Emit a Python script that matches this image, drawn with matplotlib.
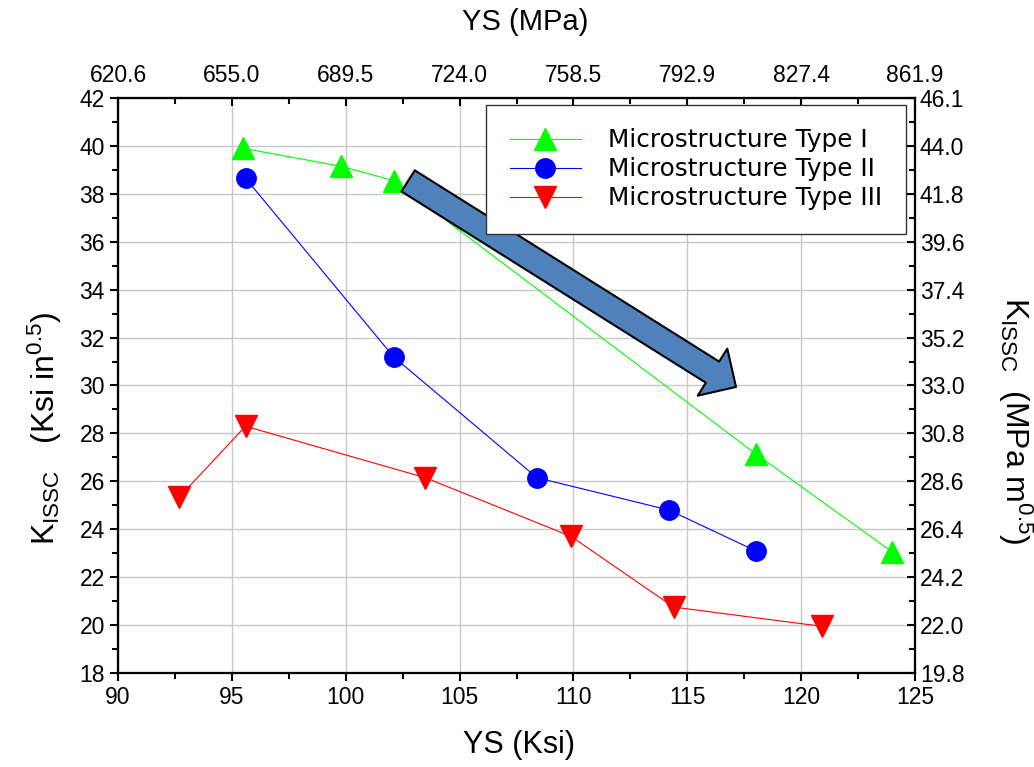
import matplotlib.pyplot as plt
from matplotlib.patches import FancyArrowPatch
from matplotlib.ticker import MultipleLocator

# data: yield strength (ksi) vs K_ISSC (ksi in^0.5)
ys_type1 = [95.5, 99.8, 102.1, 118.0, 124.0]
k_type1 = [39.9, 39.15, 38.55, 27.15, 23.05]
ys_type2 = [95.6, 102.1, 108.4, 114.2, 118.0]
k_type2 = [38.65, 31.2, 26.15, 24.8, 23.1]
ys_type3 = [92.7, 95.6, 103.5, 109.9, 114.4, 120.9]
k_type3 = [25.35, 28.3, 26.15, 23.7, 20.75, 19.95]

labels = ['Microstructure Type I', 'Microstructure Type II', 'Microstructure Type III']

ksi_ticks = [90, 95, 100, 105, 110, 115, 120, 125]
mpa_labels = ['620.6', '655.0', '689.5', '724.0', '758.5', '792.9', '827.4', '861.9']
k_ticks = [18, 20, 22, 24, 26, 28, 30, 32, 34, 36, 38, 40, 42]
mpam_labels = ['19.8', '22.0', '24.2', '26.4', '28.6', '30.8', '33.0',
               '35.2', '37.4', '39.6', '41.8', '44.0', '46.1']

plt.rcParams['font.family'] = ['Liberation Sans', 'DejaVu Sans']
plt.rcParams['mathtext.default'] = 'regular'

fig = plt.figure(figsize=(10.34, 7.67), dpi=100)
ax = fig.add_axes([118/1034, 1-673/767, 797/1034, 575/767])

ax.plot(ys_type1, k_type1, color='#00FF00', lw=0.8, marker='^', ms=16,
        mec='#00FF00', label=labels[0], zorder=3)
ax.plot(ys_type2, k_type2, color='#0000FF', lw=0.8, marker='o', ms=14,
        mec='#0000FF', label=labels[1], zorder=3)
ax.plot(ys_type3, k_type3, color='#FF0000', lw=0.8, marker='v', ms=16,
        mec='#FF0000', label=labels[2], zorder=3)

ax.set_xlim(90, 125)
ax.set_ylim(18, 42)
ax.set_xticks(ksi_ticks)
ax.set_yticks(k_ticks)
ax.xaxis.set_minor_locator(MultipleLocator(2.5))
ax.yaxis.set_minor_locator(MultipleLocator(1))
ax.grid(True, which='major', color='#C8C8C8', lw=1.0)
ax.set_axisbelow(True)
ax.tick_params(which='both', direction='out', width=1.5, labelsize=16.5, top=False, right=False)
ax.tick_params(which='major', length=6)
ax.tick_params(which='minor', length=4)

# top axis in MPa
ax_top = ax.twiny()
ax_top.set_xlim(ax.get_xlim())
ax_top.set_xticks(ksi_ticks)
ax_top.set_xticklabels(mpa_labels)
ax_top.xaxis.set_minor_locator(MultipleLocator(2.5))
ax_top.tick_params(which='both', direction='in', width=1.5, labelsize=16.5, pad=8)
ax_top.tick_params(which='major', length=6)
ax_top.tick_params(which='minor', length=4)

# right axis in MPa m^0.5
ax_right = ax.twinx()
ax_right.set_ylim(ax.get_ylim())
ax_right.set_yticks(k_ticks)
ax_right.set_yticklabels(mpam_labels)
ax_right.yaxis.set_minor_locator(MultipleLocator(1))
ax_right.tick_params(which='both', direction='in', width=1.5, labelsize=16.5)
ax_right.tick_params(which='major', length=6)
ax_right.tick_params(which='minor', length=4)

for a in (ax, ax_top, ax_right):
    for s in a.spines.values():
        s.set_linewidth(1.5)

# trend arrow
arrow = FancyArrowPatch((102.74, 38.54), (117.14, 29.94),
                        arrowstyle='simple,head_length=1.0,head_width=2.0,tail_width=0.9',
                        mutation_scale=20, fc='#4F81BD', ec='black', lw=1.5,
                        shrinkA=0, shrinkB=0, zorder=5)
ax_right.add_patch(arrow)

h, l = ax.get_legend_handles_labels()
leg = ax_right.legend(h, l, loc='upper right', bbox_to_anchor=(906/1034, 1-105/767),
                      bbox_transform=fig.transFigure, borderaxespad=0,
                      prop={'family': 'DejaVu Sans', 'size': 17.8},
                      handlelength=2.9, handletextpad=1.1, labelspacing=0.2,
                      borderpad=0.95, fancybox=False, framealpha=1, edgecolor='#333333')
leg.get_frame().set_linewidth(1.0)
leg.set_zorder(10)

fig.text(0.502, 0.029, 'YS (Ksi)', fontsize=22, ha='center', va='center')
fig.text(0.508, 0.971, 'YS (MPa)', fontsize=21, ha='center', va='center')
fig.text(0.0435, 0.442, r'K$_{ISSC}$   (Ksi in$^{0.5}$)', fontsize=23,
         rotation=90, ha='center', va='center')
fig.text(0.9816, 0.452, r'K$_{ISSC}$  (MPa m$^{0.5}$)', fontsize=23,
         rotation=270, ha='center', va='center')

fig.savefig('out.png', dpi=100)
